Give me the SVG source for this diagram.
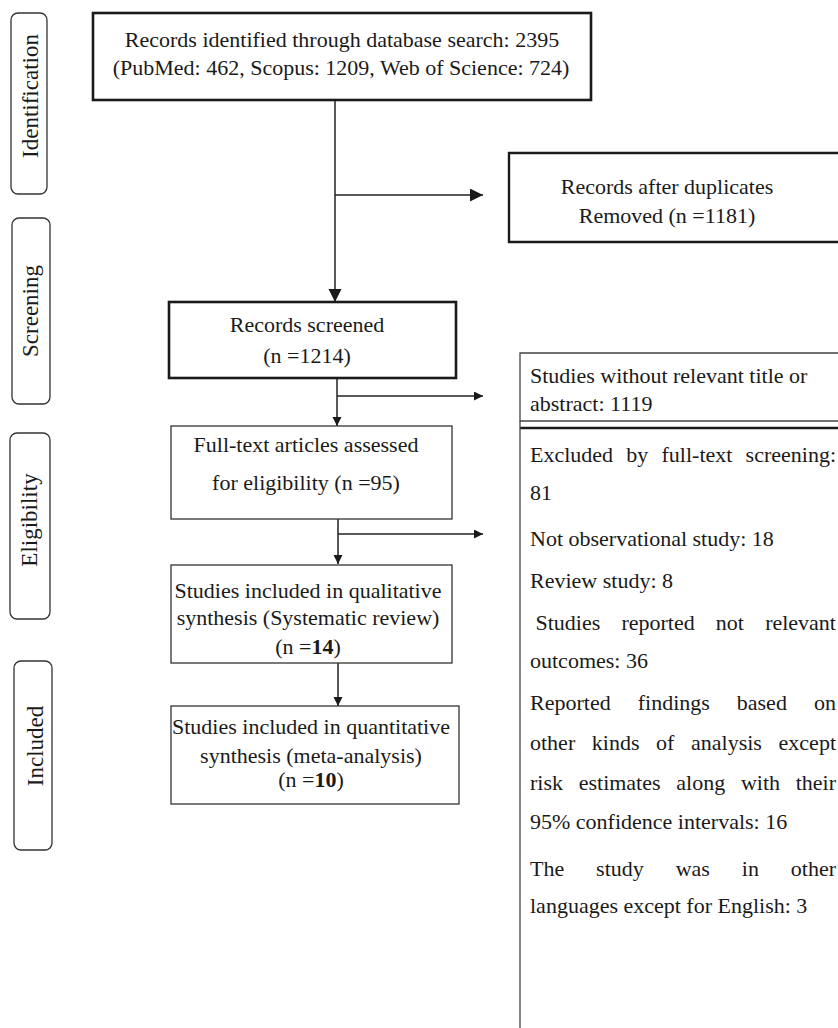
<svg xmlns="http://www.w3.org/2000/svg" width="838" height="1028" viewBox="0 0 838 1028">
<defs>
<style>
.t{font-family:"Liberation Serif","Times New Roman",serif;font-size:22px;fill:#1a1a1a}
.c{text-anchor:middle}
.e{text-anchor:end}
.side{font-family:"Liberation Serif","Times New Roman",serif;font-size:23px;fill:#1a1a1a;text-anchor:middle}
.lab{fill:none;stroke:#333;stroke-width:1.3}
.bold{fill:#fff;stroke:#1a1a1a;stroke-width:2.6}
.thin{fill:#fff;stroke:#333;stroke-width:1.3}
.ln{fill:none;stroke:#222;stroke-width:1.5}
</style>
<marker id="big" markerUnits="userSpaceOnUse" markerWidth="14" markerHeight="14" refX="13" refY="6.5" orient="auto">
<path d="M0,0 L13,6.5 L0,13 Z" fill="#1a1a1a"/>
</marker>
<marker id="sm" markerUnits="userSpaceOnUse" markerWidth="10" markerHeight="10" refX="9" refY="4.5" orient="auto">
<path d="M0,0 L9,4.5 L0,9 Z" fill="#1a1a1a"/>
</marker>
</defs>
<rect width="838" height="1028" fill="#fff"/>

<g id="label-identification">
<rect class="lab" x="11" y="13" width="36" height="181" rx="7"/>
<text class="side" transform="translate(38,96) rotate(-90)">Identification</text>
</g>
<g id="label-screening">
<rect class="lab" x="12" y="218" width="38" height="186" rx="7"/>
<text class="side" transform="translate(38,311) rotate(-90)">Screening</text>
</g>
<g id="label-eligibility">
<rect class="lab" x="10" y="433" width="40" height="186" rx="7"/>
<text class="side" transform="translate(37,520) rotate(-90)">Eligibility</text>
</g>
<g id="label-included">
<rect class="lab" x="14" y="661" width="38" height="189" rx="7"/>
<text class="side" transform="translate(43,746) rotate(-90)">Included</text>
</g>

<g id="connectors">
<line class="ln" x1="335" y1="100" x2="335" y2="302" marker-end="url(#big)"/>
<line class="ln" x1="335" y1="195" x2="483" y2="195" marker-end="url(#big)"/>
<line class="ln" x1="337" y1="378" x2="337" y2="426" marker-end="url(#sm)"/>
<line class="ln" x1="337" y1="396" x2="483" y2="396" marker-end="url(#sm)"/>
<line class="ln" x1="338" y1="519" x2="338" y2="564" marker-end="url(#sm)"/>
<line class="ln" x1="338" y1="534" x2="483" y2="534" marker-end="url(#sm)"/>
<line class="ln" x1="338" y1="663" x2="338" y2="706" marker-end="url(#sm)"/>
</g>

<g id="node-identified">
<rect class="bold" x="93" y="13" width="498" height="87"/>
<text class="t c" x="342" y="47">Records identified through database search: 2395</text>
<text class="t c" x="341" y="75">(PubMed: 462, Scopus: 1209, Web of Science: 724)</text>
</g>

<g id="node-duplicates">
<path d="M840,153 H509 V242 H840" fill="#fff" stroke="#1a1a1a" stroke-width="2.4"/>
<text class="t c" x="667" y="194">Records after duplicates</text>
<text class="t c" x="667" y="223">Removed (n =1181)</text>
</g>

<g id="node-screened">
<rect class="bold" x="169" y="302" width="287" height="76"/>
<text class="t c" x="307" y="332">Records screened</text>
<text class="t c" x="307" y="363">(n =1214)</text>
</g>

<g id="node-fulltext">
<rect class="thin" x="171" y="426" width="281" height="93"/>
<text class="t c" x="306" y="452">Full-text articles assessed</text>
<text class="t c" x="306" y="490">for eligibility (n =95)</text>
</g>

<g id="node-qualitative">
<rect class="thin" x="171" y="565" width="281" height="98"/>
<text class="t c" x="308" y="598">Studies included in qualitative</text>
<text class="t c" x="308" y="625">synthesis (Systematic review)</text>
<text class="t c" x="308" y="654">(n =<tspan font-weight="bold">14</tspan>)</text>
</g>

<g id="node-quantitative">
<rect class="thin" x="171" y="706" width="288" height="98"/>
<text class="t c" x="311" y="734">Studies included in quantitative</text>
<text class="t c" x="311" y="763">synthesis (meta-analysis)</text>
<text class="t c" x="311" y="787">(n =<tspan font-weight="bold">10</tspan>)</text>
</g>

<g id="node-excluded-title">
<path d="M840,353 H520 V421 H840" fill="none" stroke="#444" stroke-width="1.3"/>
<text class="t" x="530" y="383">Studies without relevant title or</text>
<text class="t" x="530" y="411">abstract: 1119</text>
</g>

<g id="node-excluded-fulltext">
<line x1="520" y1="428" x2="840" y2="428" stroke="#1a1a1a" stroke-width="2.4"/>
<line x1="520" y1="421" x2="520" y2="1028" stroke="#444" stroke-width="1.3"/>
<text class="t" y="462"><tspan x="530">Excluded</tspan><tspan x="626.3">by</tspan><tspan x="661.5">full-text</tspan></text>
<text class="t e" x="836" y="462">screening:</text>
<text class="t" x="530" y="500">81</text>
<text class="t" x="530" y="546">Not observational study: 18</text>
<text class="t" x="530" y="588">Review study: 8</text>
<text class="t" y="630"><tspan x="535.5">Studies</tspan><tspan x="621.4">reported</tspan><tspan x="715.8">not</tspan></text>
<text class="t e" x="836" y="630">relevant</text>
<text class="t" x="530" y="668">outcomes: 36</text>
<text class="t" y="710"><tspan x="530">Reported</tspan><tspan x="637.7">findings</tspan><tspan x="736.8">based</tspan></text>
<text class="t e" x="836" y="710">on</text>
<text class="t" y="750"><tspan x="530">other</tspan><tspan x="591.8">kinds</tspan><tspan x="656.1">of</tspan><tspan x="691">analysis</tspan></text>
<text class="t e" x="836" y="750">except</text>
<text class="t" y="790"><tspan x="530">risk</tspan><tspan x="578.7">estimates</tspan><tspan x="676.3">along</tspan><tspan x="740.9">with</tspan></text>
<text class="t e" x="836" y="790">their</text>
<text class="t" x="530" y="829">95% confidence intervals: 16</text>
<text class="t" y="876"><tspan x="530">The</tspan><tspan x="596.1">study</tspan><tspan x="675.7">was</tspan><tspan x="741.8">in</tspan></text>
<text class="t e" x="836" y="876">other</text>
<text class="t" x="530" y="913">languages except for English: 3</text>
</g>
</svg>
